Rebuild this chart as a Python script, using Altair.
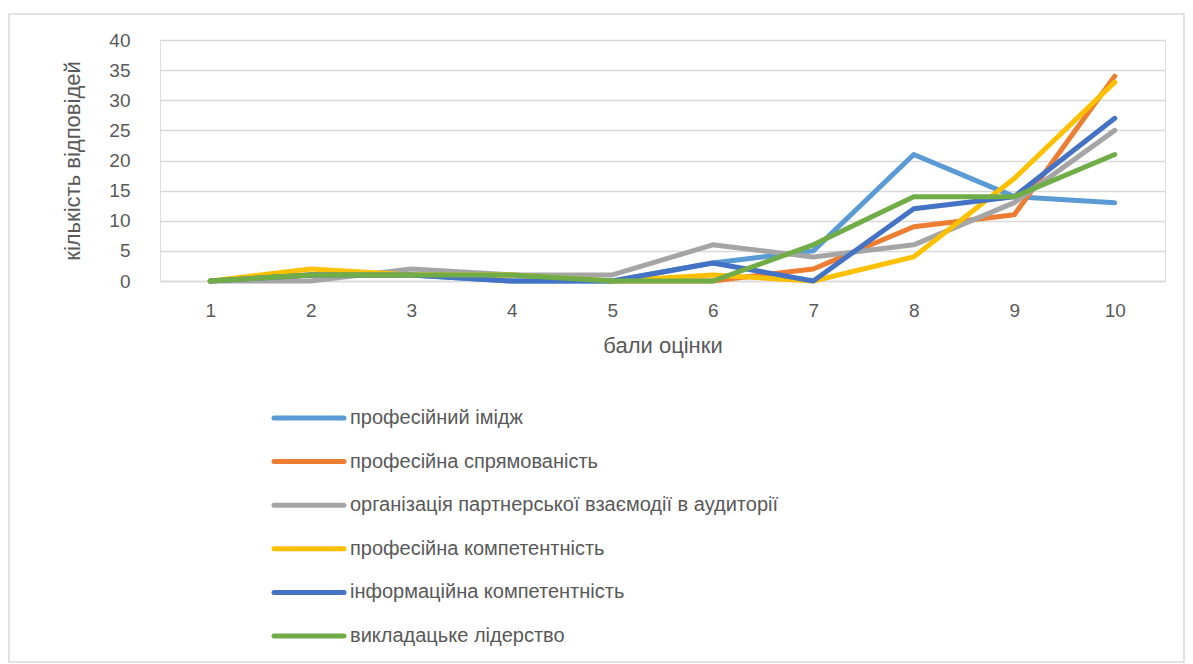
import altair as alt
import pandas as pd

scores = ["1", "2", "3", "4", "5", "6", "7", "8", "9", "10"]
series = [
    "професійний імідж",
    "професійна спрямованість",
    "організація партнерської взаємодії в аудиторії",
    "професійна компетентність",
    "інформаційна компетентність",
    "викладацьке лідерство",
]
image_vals = [0, 1, 1, 0, 0, 3, 5, 21, 14, 13]
orient_vals = [0, 1, 1, 1, 0, 0, 2, 9, 11, 34]
partner_vals = [0, 0, 2, 1, 1, 6, 4, 6, 13, 25]
prof_comp_vals = [0, 2, 1, 1, 0, 1, 0, 4, 17, 33]
info_comp_vals = [0, 1, 1, 0, 0, 3, 0, 12, 14, 27]
leader_vals = [0, 1, 1, 1, 0, 0, 6, 14, 14, 21]
colors = ["#5B9BD5", "#ED7D31", "#A5A5A5", "#FFC000", "#4472C4", "#70AD47"]

all_vals = [image_vals, orient_vals, partner_vals, prof_comp_vals, info_comp_vals, leader_vals]
rows = []
for si, (name, vals) in enumerate(zip(series, all_vals)):
    for s, v in zip(scores, vals):
        rows.append({"series": name, "order": si, "score": s, "value": v})
df = pd.DataFrame(rows)
legend_df = pd.DataFrame({"series": series})

FONT = "Liberation Sans"
TXT = "#595959"
GRID = "#d9d9d9"

color_enc = alt.Color("series:N", sort=series, scale=alt.Scale(domain=series, range=colors), legend=None)

lines = alt.Chart(df).mark_line(strokeWidth=5, strokeCap="round", strokeJoin="round").encode(
    x=alt.X(
        "score:O",
        sort=scores,
        scale=alt.Scale(type="point", padding=0.5),
        axis=alt.Axis(
            title="бали оцінки",
            labelAngle=0,
            grid=False,
            ticks=False,
            domain=True,
            domainColor=GRID,
            domainWidth=1.5,
            labelFont=FONT,
            labelFontSize=19,
            labelColor=TXT,
            labelPadding=20,
            titleFont=FONT,
            titleFontSize=22,
            titleFontWeight="normal",
            titleColor=TXT,
            titlePadding=15,
        ),
    ),
    y=alt.Y(
        "value:Q",
        scale=alt.Scale(domain=[0, 40]),
        axis=alt.Axis(
            title="кількість відповідей",
            values=list(range(0, 41, 5)),
            domain=False,
            ticks=False,
            gridColor=GRID,
            gridWidth=1.5,
            labelFont=FONT,
            labelFontSize=19,
            labelColor=TXT,
            labelPadding=30,
            titleFont=FONT,
            titleFontSize=22,
            titleFontWeight="normal",
            titleColor=TXT,
            titlePadding=24,
        ),
    ),
    color=color_enc,
    order=alt.Order("order:Q"),
)

leg_y = alt.Y("series:N", sort=series, scale=alt.Scale(type="point", domain=series, range=[378, 596], padding=0), axis=None)

leg_rules = alt.Chart(legend_df).mark_rule(strokeWidth=5, strokeCap="round").encode(
    y=leg_y, x=alt.value(114), x2=alt.value(184), color=color_enc
)
leg_text = alt.Chart(legend_df).mark_text(
    align="left", baseline="middle", font=FONT, fontSize=20, color=TXT
).encode(y=leg_y, x=alt.value(190), text="series:N")

frame = alt.Chart(alt.Data(values=[{"a": 1}])).mark_rect(
    fill=None, stroke=GRID, strokeWidth=1.5
).encode(
    x=alt.value(-151), x2=alt.value(1024), y=alt.value(-26), y2=alt.value(622)
)

legend = alt.layer(leg_rules, leg_text)

chart = alt.layer(frame, lines, legend).resolve_scale(y="independent").properties(
    width=1005,
    height=241,
    autosize=alt.AutoSizeParams(type="none"),
    padding={"left": 152, "top": 32, "right": 20, "bottom": 383},
).configure_view(stroke=None).configure(background="white")

chart.save("out.html", embed_options={"renderer": "svg", "actions": False})
